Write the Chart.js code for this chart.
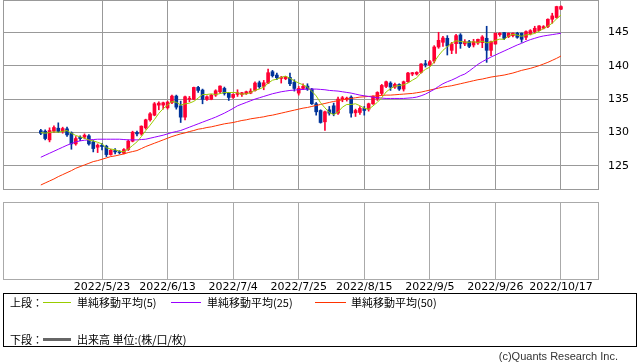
<!DOCTYPE html>
<html>
<head>
<meta charset="utf-8">
<script src="https://cdn.jsdelivr.net/npm/chart.js@4.4.0/dist/chart.umd.min.js"></script>
<style>
  body { margin: 0; background: #fff; width: 638px; height: 362px; overflow: hidden; position: relative; }
  canvas { position: absolute; left: 0; }
  #top { top: 0; }
  #bottom { top: 196px; }
  .box { position: absolute; left: 3px; top: 293px; width: 634px; height: 54px; border: 1px solid #000; box-sizing: border-box; }
  .t { position: absolute; font-family: "Noto Sans CJK JP", sans-serif; font-size: 11px; line-height: 14px; color: #000; white-space: nowrap; }
  .ln { position: absolute; height: 1px; }
  .copy { position: absolute; right: 20px; top: 349px; font-family: "Liberation Sans", sans-serif; font-size: 11px; line-height: 14px; color: #333; }
</style>
</head>
<body>
<canvas id="top" width="638" height="191"></canvas>
<canvas id="bottom" width="638" height="104"></canvas>

<div class="box"></div>
<div class="t" style="left:10px;top:295px">上段：</div>
<div class="ln" style="left:43px;top:302px;width:28px;background:#99cc00"></div>
<div class="t" style="left:77px;top:295px">単純移動平均(5)</div>
<div class="ln" style="left:171px;top:302px;width:30px;background:#9900ff"></div>
<div class="t" style="left:207px;top:295px">単純移動平均(25)</div>
<div class="ln" style="left:315px;top:302px;width:31px;background:#ff3300"></div>
<div class="t" style="left:351px;top:295px">単純移動平均(50)</div>
<div class="t" style="left:10px;top:332px">下段：</div>
<div class="ln" style="left:43px;top:338px;width:28px;height:3px;background:#666"></div>
<div class="t" style="left:77px;top:332px">出来高 単位:(株/口/枚)</div>
<div class="copy">(c)Quants Research Inc.</div>

<script>
// trading days shown on the chart
const dates = [
  '2022/5/3','2022/5/4','2022/5/5','2022/5/6','2022/5/9','2022/5/10','2022/5/11','2022/5/12','2022/5/13','2022/5/16',
  '2022/5/17','2022/5/18','2022/5/19','2022/5/20','2022/5/23','2022/5/24','2022/5/25','2022/5/26','2022/5/27','2022/5/30',
  '2022/5/31','2022/6/1','2022/6/2','2022/6/3','2022/6/6','2022/6/7','2022/6/8','2022/6/9','2022/6/10','2022/6/13',
  '2022/6/14','2022/6/15','2022/6/16','2022/6/17','2022/6/20','2022/6/21','2022/6/22','2022/6/23','2022/6/24','2022/6/27',
  '2022/6/28','2022/6/29','2022/6/30','2022/7/1','2022/7/4','2022/7/5','2022/7/6','2022/7/7','2022/7/8','2022/7/11',
  '2022/7/12','2022/7/13','2022/7/14','2022/7/15','2022/7/18','2022/7/19','2022/7/20','2022/7/21','2022/7/22','2022/7/25',
  '2022/7/26','2022/7/27','2022/7/28','2022/7/29','2022/8/1','2022/8/2','2022/8/3','2022/8/4','2022/8/5','2022/8/8',
  '2022/8/9','2022/8/10','2022/8/11','2022/8/12','2022/8/15','2022/8/16','2022/8/17','2022/8/18','2022/8/19','2022/8/22',
  '2022/8/23','2022/8/24','2022/8/25','2022/8/26','2022/8/29','2022/8/30','2022/8/31','2022/9/1','2022/9/2','2022/9/5',
  '2022/9/6','2022/9/7','2022/9/8','2022/9/9','2022/9/12','2022/9/13','2022/9/14','2022/9/15','2022/9/16','2022/9/19',
  '2022/9/20','2022/9/21','2022/9/22','2022/9/23','2022/9/26','2022/9/27','2022/9/28','2022/9/29','2022/9/30','2022/10/3',
  '2022/10/4','2022/10/5','2022/10/6','2022/10/7','2022/10/10','2022/10/11','2022/10/12','2022/10/13','2022/10/14','2022/10/17'
];

const opens = [
  130.28,130.2,128.9,130.2,130.65,130.15,130.55,129.95,128.3,129.3,
  129.3,129.5,128.6,127.8,128.1,127.95,126.7,127.3,127.15,126.9,
  127.45,128.7,130.0,129.8,130.7,131.9,132.6,134.1,134.1,133.7,
  134.5,135.45,134.0,132.3,134.98,134.97,136.75,136.35,134.97,134.97,
  135.6,136.1,136.6,135.95,135.25,135.7,135.7,135.8,135.9,136.3,
  137.45,136.9,137.4,139.1,138.6,138.1,138.05,138.25,137.5,135.9,
  136.6,136.95,136.5,134.3,133.3,131.6,133.4,134.0,132.9,135.0,
  135.0,135.3,132.95,133.0,133.6,133.5,134.3,135.05,135.85,136.9,
  137.4,136.8,137.2,136.5,137.6,138.75,138.75,139.0,140.3,140.1,
  140.7,142.8,143.5,144.1,142.3,143.3,144.6,143.25,143.6,143.1,
  143.4,143.45,144.1,142.3,143.25,144.65,144.95,144.35,144.5,144.85,
  144.85,144.25,144.75,145.1,145.25,145.6,145.85,146.95,147.2,148.45
];
const highs = [
  130.48,130.4,130.7,131.0,131.45,130.8,130.8,130.1,129.4,129.5,
  129.8,129.7,128.8,128.3,128.4,128.1,127.5,127.6,127.3,127.6,
  128.9,130.2,130.2,131.0,132.0,133.0,134.5,134.6,134.55,134.7,
  135.6,135.6,134.7,135.45,135.4,136.8,136.9,136.5,135.5,135.7,
  136.4,137.0,136.8,136.0,135.8,136.4,136.0,136.2,136.55,137.6,
  137.7,137.8,139.5,139.3,138.9,138.4,138.4,138.9,137.9,136.9,
  137.3,137.3,136.6,134.5,133.4,133.2,133.9,134.4,135.3,135.4,
  135.3,135.5,133.5,133.9,133.9,134.4,135.5,136.1,137.2,137.7,
  137.6,137.4,137.3,137.7,139.0,139.0,139.1,140.3,140.8,140.8,
  143.0,145.0,144.4,144.5,143.5,144.7,144.8,143.9,143.8,143.95,
  144.0,144.5,145.9,143.7,144.9,144.95,145.0,144.9,144.9,145.0,
  144.9,145.2,145.4,145.9,146.0,146.0,147.0,147.85,148.9,148.95
];
const lows = [
  129.68,128.9,128.6,130.0,130.0,129.9,129.4,127.5,128.1,128.8,
  129.1,128.1,127.1,127.0,127.4,126.4,126.6,126.8,126.8,126.8,
  127.3,128.6,129.5,129.6,130.5,131.7,132.5,133.4,133.5,133.5,
  134.3,133.5,131.5,131.9,134.6,134.9,136.0,134.3,134.8,134.9,
  135.4,135.9,135.6,134.8,135.1,135.4,135.4,135.7,135.8,136.2,
  136.6,136.4,137.3,138.3,137.9,137.4,137.9,137.0,136.2,135.6,
  136.4,136.3,134.2,132.6,131.4,130.3,132.6,132.5,132.7,134.6,
  134.7,132.3,132.4,132.7,132.6,133.2,134.2,134.8,135.6,136.7,
  136.3,136.6,136.3,136.2,137.5,138.5,138.6,138.9,139.8,140.0,
  140.4,142.6,142.9,141.6,141.8,141.85,142.6,143.0,142.7,142.8,
  143.2,142.7,140.5,141.5,143.2,144.4,143.9,144.2,144.3,144.1,
  143.5,143.9,144.6,144.9,145.2,145.5,145.7,146.35,147.1,148.4
];
const closes = [
  129.88,129.1,130.3,130.75,130.15,130.6,129.65,128.3,129.1,129.1,
  129.6,128.3,127.6,128.1,127.9,126.7,127.35,127.1,127.0,127.45,
  128.7,130.05,129.8,130.95,131.9,132.8,134.3,134.4,134.45,134.55,
  135.45,133.8,132.3,135.35,135.1,136.75,136.3,134.97,135.35,135.6,
  136.25,136.95,135.85,135.25,135.7,135.95,135.95,136.1,136.2,137.4,
  136.85,137.45,138.95,138.5,138.2,138.25,138.3,137.3,136.6,136.6,
  136.9,136.5,134.3,133.1,131.5,133.1,132.9,132.8,135.0,135.2,
  135.1,132.9,133.3,133.6,133.3,134.3,135.4,136.0,137.05,137.6,
  136.8,137.2,136.5,137.6,138.9,138.95,139.0,140.25,140.15,140.6,
  142.8,143.8,144.15,142.95,143.25,144.5,143.3,143.6,142.9,143.6,
  143.95,144.3,142.3,143.6,144.85,144.85,144.1,144.85,144.85,144.25,
  143.95,145.1,145.25,145.6,145.95,145.85,146.95,147.45,148.85,148.85
];

// moving averages as drawn
const ma5 = [
  130.0,129.9,130.0,130.1,130.04,130.18,130.29,129.89,129.56,129.35,
  129.15,128.88,128.74,128.54,128.3,127.72,127.53,127.43,127.21,127.12,
  127.52,128.06,128.6,129.39,130.28,131.1,131.95,132.87,133.57,134.1,
  134.63,134.53,134.11,134.29,134.4,134.66,135.16,135.69,135.69,135.79,
  135.69,135.82,136.0,135.98,136.0,135.94,135.74,135.79,135.98,136.32,
  136.5,136.8,137.37,137.83,137.99,138.27,138.44,138.11,137.73,137.41,
  137.14,136.78,136.18,135.48,134.46,133.7,132.98,132.68,133.06,133.8,
  134.2,134.2,134.3,134.02,133.64,133.48,133.98,134.52,135.21,136.07,
  136.57,136.93,137.03,137.14,137.4,137.83,138.19,138.94,139.45,139.79,
  140.56,141.52,142.3,142.86,143.39,143.73,143.63,143.52,143.51,143.58,
  143.47,143.67,143.41,143.55,143.8,143.98,143.94,144.45,144.7,144.58,
  144.4,144.6,144.68,144.83,145.17,145.55,145.92,146.36,147.01,147.59
];
const ma25 = [
  126.3,126.6,126.9,127.2,127.5,127.8,128.1,128.35,128.6,128.75,
  128.85,128.9,128.95,129.0,129.0,129.0,129.0,129.0,129.0,128.95,
  128.9,128.9,128.9,128.95,129.0,129.15,129.3,129.45,129.6,129.8,
  130.0,130.15,130.3,130.55,130.8,131.05,131.3,131.55,131.8,132.05,
  132.3,132.6,132.9,133.25,133.6,134.0,134.25,134.5,134.75,135.0,
  135.2,135.4,135.6,135.8,135.95,136.1,136.2,136.3,136.35,136.4,
  136.45,136.5,136.5,136.5,136.45,136.4,136.3,136.25,136.2,136.1,
  136.0,135.9,135.75,135.6,135.5,135.4,135.3,135.2,135.15,135.1,
  135.1,135.1,135.1,135.1,135.15,135.2,135.3,135.5,135.75,136.1,
  136.45,136.9,137.3,137.6,137.85,138.15,138.5,138.75,139.2,139.7,
  140.2,140.6,140.95,141.3,141.6,141.9,142.2,142.5,142.8,143.1,
  143.35,143.65,143.9,144.1,144.3,144.45,144.55,144.65,144.75,144.85
];
const ma50 = [
  122.15,122.45,122.75,123.05,123.4,123.7,124.0,124.3,124.65,124.9,
  125.15,125.4,125.65,125.8,126.0,126.2,126.4,126.5,126.65,126.8,
  127.0,127.15,127.3,127.6,127.9,128.15,128.4,128.65,128.9,129.15,
  129.4,129.6,129.8,129.95,130.15,130.3,130.5,130.6,130.75,130.85,
  131.0,131.15,131.3,131.4,131.5,131.65,131.8,131.9,132.05,132.15,
  132.25,132.35,132.5,132.6,132.75,132.9,133.05,133.2,133.35,133.5,
  133.65,133.75,133.9,134.05,134.2,134.35,134.5,134.65,134.75,134.9,
  135.0,135.1,135.2,135.3,135.35,135.4,135.45,135.5,135.55,135.6,
  135.6,135.65,135.7,135.75,135.8,135.85,135.95,136.05,136.2,136.35,
  136.5,136.65,136.8,136.9,137.0,137.15,137.3,137.45,137.6,137.75,
  137.9,138.0,138.15,138.3,138.4,138.5,138.6,138.75,138.9,139.1,
  139.3,139.45,139.6,139.8,140.0,140.25,140.5,140.8,141.1,141.45
];

// volume panel is empty for this instrument
const volumes = [];

const xTickLabels = ['2022/5/23','2022/6/13','2022/7/4','2022/7/25','2022/8/15','2022/9/5','2022/9/26','2022/10/17'];
const yTicks = [125, 130, 135, 140, 145];

const UP = '#ff0033', DOWN = '#003399';
const xTickIdx = xTickLabels.map(d => dates.indexOf(d));
const candleColors = opens.map((o, i) => closes[i] >= o ? UP : DOWN);
const xRange = { min: -8.65, max: 127.7 };
const labelFont = { family: 'DejaVu Sans', size: 11 };

// gray frame around each panel
const frame = {
    id: 'frame',
    beforeDatasetsDraw(chart, args, opts) {
        const a = chart.chartArea;
        const ctx = chart.ctx;
        ctx.save();
        ctx.strokeStyle = opts.color;
        ctx.lineWidth = 1;
        ctx.strokeRect(a.left + 0.5, a.top + 0.5, a.right - a.left - 1, a.bottom - a.top - 1);
        ctx.restore();
    }
};

function xScale(extra) {
    return Object.assign({
        type: 'linear',
        min: xRange.min,
        max: xRange.max,
        offset: false,
        afterBuildTicks: (s) => { s.ticks = xTickIdx.map(v => ({ value: v })); },
        border: { display: false }
    }, extra);
}

function maLine(label, values, color) {
    return {
        type: 'line',
        label: label,
        data: values.map((v, i) => ({ x: i, y: v })),
        borderColor: color,
        borderWidth: 1,
        pointRadius: 0,
        tension: 0,
        order: 0
    };
}

new Chart(document.getElementById('top'), {
    type: 'bar',
    data: {
        datasets: [
            maLine('単純移動平均(5)', ma5, '#99cc00'),
            maLine('単純移動平均(25)', ma25, '#9900ff'),
            maLine('単純移動平均(50)', ma50, '#ff3300'),
            {
                label: 'body',
                data: opens.map((o, i) => ({ x: i, y: [o, closes[i]] })),
                backgroundColor: candleColors,
                barThickness: 3,
                minBarLength: 1,
                grouped: false,
                order: 1
            },
            {
                label: 'wick',
                data: lows.map((l, i) => ({ x: i, y: [l, highs[i]] })),
                backgroundColor: candleColors,
                barThickness: 1,
                grouped: false,
                order: 2
            }
        ]
    },
    options: {
        responsive: false,
        animation: false,
        events: [],
        layout: { padding: { left: 3, right: 0, top: 0, bottom: 1 } },
        plugins: {
            legend: { display: false },
            tooltip: { enabled: false },
            frame: { color: '#999' }
        },
        scales: {
            x: xScale({
                afterFit: (s) => { s.height = 0; s.paddingLeft = 0; s.paddingRight = 0; },
                ticks: { display: false },
                grid: { color: '#999', drawTicks: false, offset: false }
            }),
            y: {
                position: 'right',
                min: 121.4,
                max: 149.83,
                afterBuildTicks: (s) => { s.ticks = yTicks.map(v => ({ value: v })); },
                afterFit: (s) => { s.width = 39; s.paddingTop = 0; s.paddingBottom = 0; },
                grid: { color: '#999', drawTicks: false },
                border: { display: false },
                ticks: { padding: 9, color: '#000', font: labelFont }
            }
        }
    },
    plugins: [frame]
});

new Chart(document.getElementById('bottom'), {
    type: 'bar',
    data: {
        datasets: [{ label: '出来高', data: volumes, backgroundColor: '#666' }]
    },
    options: {
        responsive: false,
        animation: false,
        events: [],
        layout: { padding: { left: 3, right: 39, top: 6, bottom: 0 } },
        plugins: {
            legend: { display: false },
            tooltip: { enabled: false },
            frame: { color: '#aaa' }
        },
        scales: {
            x: xScale({
                afterFit: (s) => { s.height = 20; s.paddingLeft = 0; s.paddingRight = 0; },
                ticks: {
                    callback: (v) => dates[v],
                    padding: 1,
                    maxRotation: 0,
                    autoSkip: false,
                    color: '#000',
                    font: labelFont
                },
                grid: { color: '#aaa', drawTicks: false, offset: false }
            }),
            y: { display: false, min: 0, max: 1 }
        }
    },
    plugins: [frame]
});
</script>
</body>
</html>
